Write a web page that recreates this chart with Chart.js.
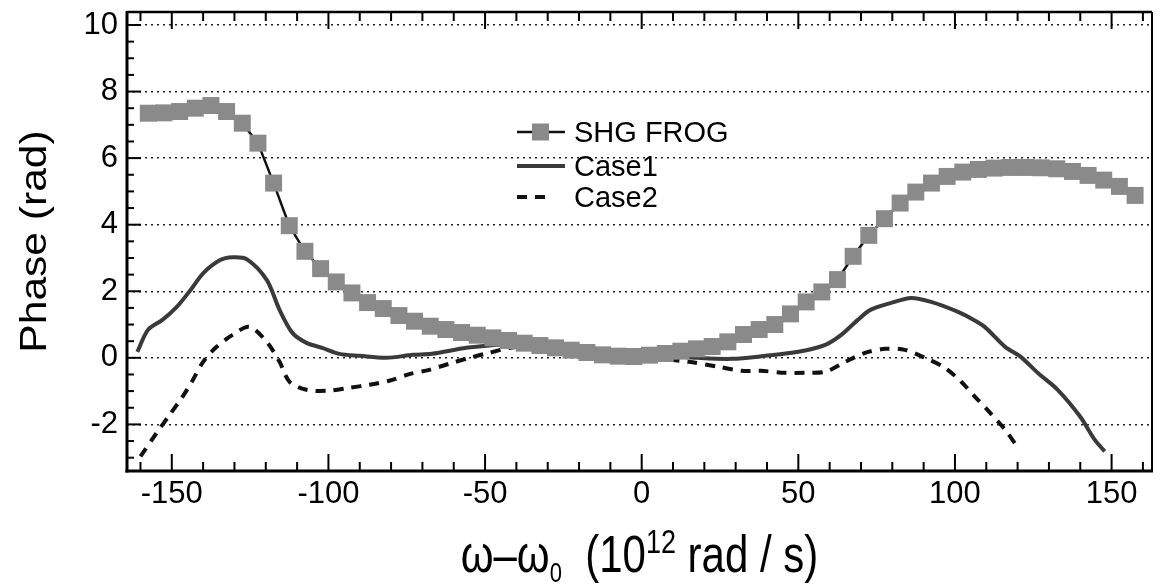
<!DOCTYPE html>
<html>
<head>
<meta charset="utf-8">
<script src="https://cdn.jsdelivr.net/npm/chart.js@4.4.1/dist/chart.umd.min.js"></script>
<style>
  html, body { margin: 0; padding: 0; background: #fff; }
  #wrap { width: 1164px; height: 588px; }
</style>
</head>
<body>
<div id="wrap"><canvas id="phaseChart"></canvas></div>
<script>
// ---------------- DATA ----------------
// SHG FROG retrieved phase (squares)
const shgX = [-157.5, -152.5, -147.5, -142.5, -137.5, -132.5, -127.5, -122.5, -117.5, -112.5,
  -107.5, -102.5, -97.5, -92.5, -87.5, -82.5, -77.5, -72.5, -67.5, -62.5,
  -57.5, -52.5, -47.5, -42.5, -37.5, -32.5, -27.5, -22.5, -17.5, -12.5,
  -7.5, -2.5, 2.5, 7.5, 12.5, 17.5, 22.5, 27.5, 32.5, 37.5,
  42.5, 47.5, 52.5, 57.5, 62.5, 67.5, 72.5, 77.5, 82.5, 87.5,
  92.5, 97.5, 102.5, 107.5, 112.5, 117.5, 122.5, 127.5, 132.5, 137.5,
  142.5, 147.5, 152.5, 157.5];
const shgY = [7.35, 7.36, 7.4, 7.5, 7.58, 7.4, 7.05, 6.45, 5.25, 3.97,
  3.2, 2.68, 2.28, 1.95, 1.66, 1.48, 1.27, 1.1, 0.95, 0.85,
  0.76, 0.68, 0.6, 0.52, 0.44, 0.37, 0.3, 0.23, 0.16, 0.09,
  0.05, 0.04, 0.08, 0.13, 0.2, 0.27, 0.34, 0.48, 0.7, 0.85,
  1.0, 1.32, 1.68, 1.98, 2.35, 3.05, 3.68, 4.18, 4.65, 4.98,
  5.25, 5.45, 5.58, 5.66, 5.7, 5.72, 5.72, 5.71, 5.68, 5.6,
  5.48, 5.34, 5.15, 4.88];

// Case1 (solid)
const case1X = [-161, -157.6, -153, -148.4, -144, -140, -134.7, -130.6, -126, -119.7,
  -115.6, -111.5, -107, -102, -96.5, -90, -81.5, -73, -67, -56,
  -46.5, -38, -30, -20, -10, 0, 10, 18, 28.7, 39.5,
  50, 58.6, 63.7, 69, 73, 79.6, 86, 92.4, 101, 106,
  109.5, 116, 121, 126.4, 132.8, 140, 144.6, 147.8];
const case1Y = [0.18, 0.84, 1.14, 1.53, 2.04, 2.54, 2.93, 3.02, 2.96, 2.34,
  1.44, 0.75, 0.45, 0.3, 0.12, 0.06, 0.0, 0.09, 0.12, 0.3,
  0.39, 0.45, 0.42, 0.33, 0.22, 0.14, 0.06, 0.0, -0.03, 0.06,
  0.18, 0.39, 0.69, 1.14, 1.44, 1.65, 1.8, 1.68, 1.38, 1.14,
  0.93, 0.33, 0.03, -0.45, -0.96, -1.77, -2.46, -2.81];

// Case2 (dashed)
const case2X = [-160, -154.8, -150.6, -146.8, -143.6, -140, -135.7, -130.6, -125.2, -119.7,
  -115.6, -112.4, -107, -100.6, -93.3, -87, -80.6, -74.2, -67.8, -61.5,
  -55, -48.7, -42, -35, -25, -15, -5, 5, 15, 24.5,
  32, 38, 45.8, 52, 58.6, 65, 71.3, 77.7, 84, 90.4,
  96.8, 102, 106.4, 111.3, 116, 120.5];
const case2Y = [-2.96, -2.25, -1.7, -1.2, -0.72, -0.12, 0.33, 0.69, 0.93, 0.48,
  -0.12, -0.72, -0.96, -0.99, -0.9, -0.81, -0.69, -0.49, -0.36, -0.18,
  0.0, 0.15, 0.3, 0.35, 0.28, 0.15, 0.05, -0.02, -0.12, -0.27,
  -0.39, -0.39, -0.45, -0.45, -0.42, -0.12, 0.15, 0.27, 0.24, 0.0,
  -0.3, -0.72, -1.17, -1.66, -2.16, -2.75];

const seriesNames = ['SHG FROG', 'Case1', 'Case2'];

// axis ranges
const xMin = -164.3, xMax = 162.9;
const yMin = -3.4, yMax = 10.39;

const FONT = '"Liberation Sans", Arial, Helvetica, sans-serif';

function toPoints(xs, ys) {
  return xs.map((x, i) => ({ x: x, y: ys[i] }));
}

function strokeLine(ctx, x1, y1, x2, y2) {
  ctx.beginPath();
  ctx.moveTo(x1, y1);
  ctx.lineTo(x2, y2);
  ctx.stroke();
}

// inward ticks + box frame
const frameTicks = {
  id: 'frameTicks',
  afterDatasetsDraw(chart) {
    const { ctx, chartArea: a, scales: { x, y } } = chart;
    ctx.save();
    ctx.strokeStyle = '#000';
    ctx.lineWidth = 2;
    for (let v = -160; v <= 160; v += 10) {
      const px = x.getPixelForValue(v);
      const len = v % 50 === 0 ? 17 : 9;
      strokeLine(ctx, px, a.bottom, px, a.bottom - len);
      strokeLine(ctx, px, a.top, px, a.top + len);
    }
    for (let v = -3; v <= 10; v += 0.5) {
      const py = y.getPixelForValue(v);
      const len = v % 2 === 0 ? 14 : 7;
      strokeLine(ctx, a.left, py, a.left + len, py);
    }
    ctx.lineWidth = 3;
    strokeLine(ctx, a.left, a.top - 1, a.left, a.bottom + 1.5);
    strokeLine(ctx, a.left - 1.5, a.bottom, a.right + 1, a.bottom);
    ctx.lineWidth = 2.5;
    strokeLine(ctx, a.left, a.top, a.right, a.top);
    ctx.lineWidth = 2;
    strokeLine(ctx, a.right, a.top, a.right, a.bottom);
    ctx.restore();
  }
};

// legend inside the plot
const phaseLegend = {
  id: 'phaseLegend',
  afterDatasetsDraw(chart) {
    const ctx = chart.ctx;
    const baselines = [142, 176, 207];
    chart.data.datasets.forEach((ds, i) => {
      const b = baselines[i];
      const ly = b - 10;
      ctx.save();
      ctx.strokeStyle = ds.borderColor;
      ctx.lineWidth = ds.borderWidth;
      ctx.setLineDash(ds.borderDash || []);
      strokeLine(ctx, 517, ly, ds.borderDash ? 546 : 565, ly);
      ctx.setLineDash([]);
      if (ds.pointRadius > 0) {
        ctx.fillStyle = ds.pointBackgroundColor;
        ctx.fillRect(532, ly - 8.5, 17, 17);
      }
      ctx.fillStyle = '#000';
      ctx.font = '29px ' + FONT;
      ctx.textBaseline = 'alphabetic';
      ctx.textAlign = 'left';
      ctx.fillText(ds.label, 574, b);
      ctx.restore();
    });
  }
};

// axis titles (with sub/superscripts)
const axisTitles = {
  id: 'axisTitles',
  afterDraw(chart) {
    const { ctx, chartArea: a } = chart;
    ctx.save();
    ctx.fillStyle = '#000';
    ctx.textBaseline = 'alphabetic';
    ctx.textAlign = 'left';

    // x title
    const parts = [
      { t: 'ω–ω', size: 42, dy: 0 },
      { t: '0', size: 22, dy: 8 },
      { t: '  (10', size: 42, dy: 0 },
      { t: '12', size: 27, dy: -15 },
      { t: ' rad / s)', size: 42, dy: 0 }
    ];
    let total = 0;
    parts.forEach(p => {
      ctx.font = p.size + 'px ' + FONT;
      p.w = ctx.measureText(p.t).width;
      total += p.w;
    });
    ctx.save();
    ctx.translate((a.left + a.right) / 2, 572);
    ctx.scale(1, 1.25);
    let cx = -total / 2;
    parts.forEach(p => {
      ctx.font = p.size + 'px ' + FONT;
      ctx.fillText(p.t, cx, p.dy);
      cx += p.w;
    });
    ctx.restore();

    // y title
    ctx.save();
    ctx.translate(46, (a.top + a.bottom) / 2);
    ctx.rotate(-Math.PI / 2);
    ctx.scale(1.15, 1);
    ctx.font = '37px ' + FONT;
    ctx.textAlign = 'center';
    ctx.fillText('Phase (rad)', 0, 0);
    ctx.restore();

    ctx.restore();
  }
};

function noPad(scale) {
  scale.paddingTop = 0;
  scale.paddingBottom = 0;
  scale.paddingLeft = 0;
  scale.paddingRight = 0;
}

const chart = new Chart(document.getElementById('phaseChart'), {
  type: 'line',
  data: {
    datasets: [
      {
        label: seriesNames[0],
        data: toPoints(shgX, shgY),
        borderColor: '#111',
        borderWidth: 2.5,
        pointStyle: 'rect',
        pointRadius: 12,
        pointBackgroundColor: '#8a8a8a',
        pointBorderWidth: 0,
        tension: 0
      },
      {
        label: seriesNames[1],
        data: toPoints(case1X, case1Y),
        borderColor: '#3a3a3a',
        borderWidth: 4,
        pointRadius: 0,
        tension: 0.3
      },
      {
        label: seriesNames[2],
        data: toPoints(case2X, case2Y),
        borderColor: '#111',
        borderWidth: 4,
        borderDash: [10, 8],
        pointRadius: 0,
        tension: 0.3
      }
    ]
  },
  options: {
    responsive: true,
    maintainAspectRatio: false,
    animation: false,
    events: [],
    layout: { padding: { top: 10, right: 10, left: 0, bottom: 0 } },
    plugins: {
      legend: { display: false },
      tooltip: { enabled: false }
    },
    scales: {
      x: {
        type: 'linear',
        min: xMin,
        max: xMax,
        grid: { display: false, drawTicks: false },
        border: { display: false },
        ticks: {
          stepSize: 50,
          includeBounds: false,
          padding: 5,
          color: '#000',
          font: { family: FONT, size: 31 }
        },
        afterFit(scale) { scale.height = 117; noPad(scale); }
      },
      y: {
        min: yMin,
        max: yMax,
        grid: { display: true, drawTicks: false, color: '#222', lineWidth: 1.4 },
        border: { display: false, dash: [2, 4] },
        ticks: {
          stepSize: 2,
          includeBounds: false,
          padding: 9,
          color: '#000',
          font: { family: FONT, size: 31 }
        },
        afterFit(scale) { scale.width = 127; noPad(scale); }
      }
    }
  },
  plugins: [frameTicks, phaseLegend, axisTitles]
});
</script>
</body>
</html>
